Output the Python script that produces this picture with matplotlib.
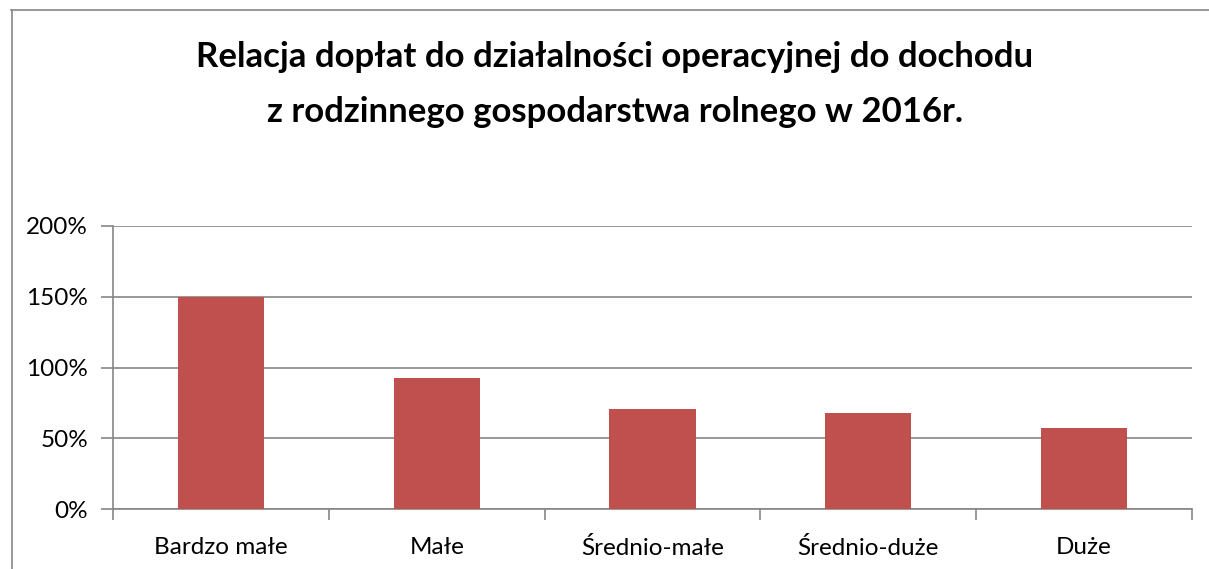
import matplotlib
matplotlib.use("Agg")
import matplotlib.pyplot as plt
from matplotlib.lines import Line2D
from matplotlib.ticker import FuncFormatter, FixedLocator
import numpy as np

categories = ["Bardzo małe", "Małe", "Średnio-małe", "Średnio-duże", "Duże"]
values = [1.50, 0.925, 0.71, 0.675, 0.57]
yticks = [0, 0.5, 1.0, 1.5, 2.0]
title_lines = ["Relacja dopłat do działalności operacyjnej do dochodu",
               "z rodzinnego gospodarstwa rolnego w 2016r."]

plt.rcParams['font.family'] = ['Lato', 'DejaVu Sans']

W, H = 1209, 569
fig = plt.figure(figsize=(W / 100, H / 100), dpi=100)
ax = fig.add_axes([113 / W, 1 - 509 / H, (1192 - 113) / W, (509 - 226) / H])

x = np.arange(len(categories))
ax.bar(x, values, width=0.4, color="#C0504D", zorder=3)

ax.set_xlim(-0.5, len(categories) - 0.5)
ax.set_ylim(0, 2.0)
ax.yaxis.set_major_locator(FixedLocator(yticks))
ax.yaxis.set_major_formatter(FuncFormatter(lambda v, p: f"{v*100:.0f}%"))
ax.grid(axis="y", color="#868686", linewidth=1.2, zorder=0)

ax.set_xticks(x)
ax.set_xticklabels(categories)
ax.set_xticks(np.arange(len(categories) + 1) - 0.5, minor=True)
ax.tick_params(axis="x", which="major", length=0, pad=20, labelsize=17.5, colors="black")
ax.tick_params(axis="x", which="minor", length=8, width=1.2, color="#868686", direction="out")
ax.tick_params(axis="y", length=9, width=1.2, color="#868686", pad=9, labelsize=17.5, labelcolor="black")

for s in ["top", "right"]:
    ax.spines[s].set_visible(False)
for s in ["left", "bottom"]:
    ax.spines[s].set_color("#868686")
    ax.spines[s].set_linewidth(1.2)

fig.text(615 / W, 1 - 57 / H, title_lines[0], ha="center", va="center",
         fontsize=25, fontweight="bold")
fig.text(615 / W, 1 - 112 / H, title_lines[1], ha="center", va="center",
         fontsize=25, fontweight="bold")

fig.add_artist(Line2D([11 / W, 1], [1 - 9.5 / H, 1 - 9.5 / H], transform=fig.transFigure,
                      color="#868686", linewidth=1.2))
fig.add_artist(Line2D([11.5 / W, 11.5 / W], [0, 1 - 9.5 / H], transform=fig.transFigure,
                      color="#868686", linewidth=1.2))

fig.savefig("out.png", dpi=100)
